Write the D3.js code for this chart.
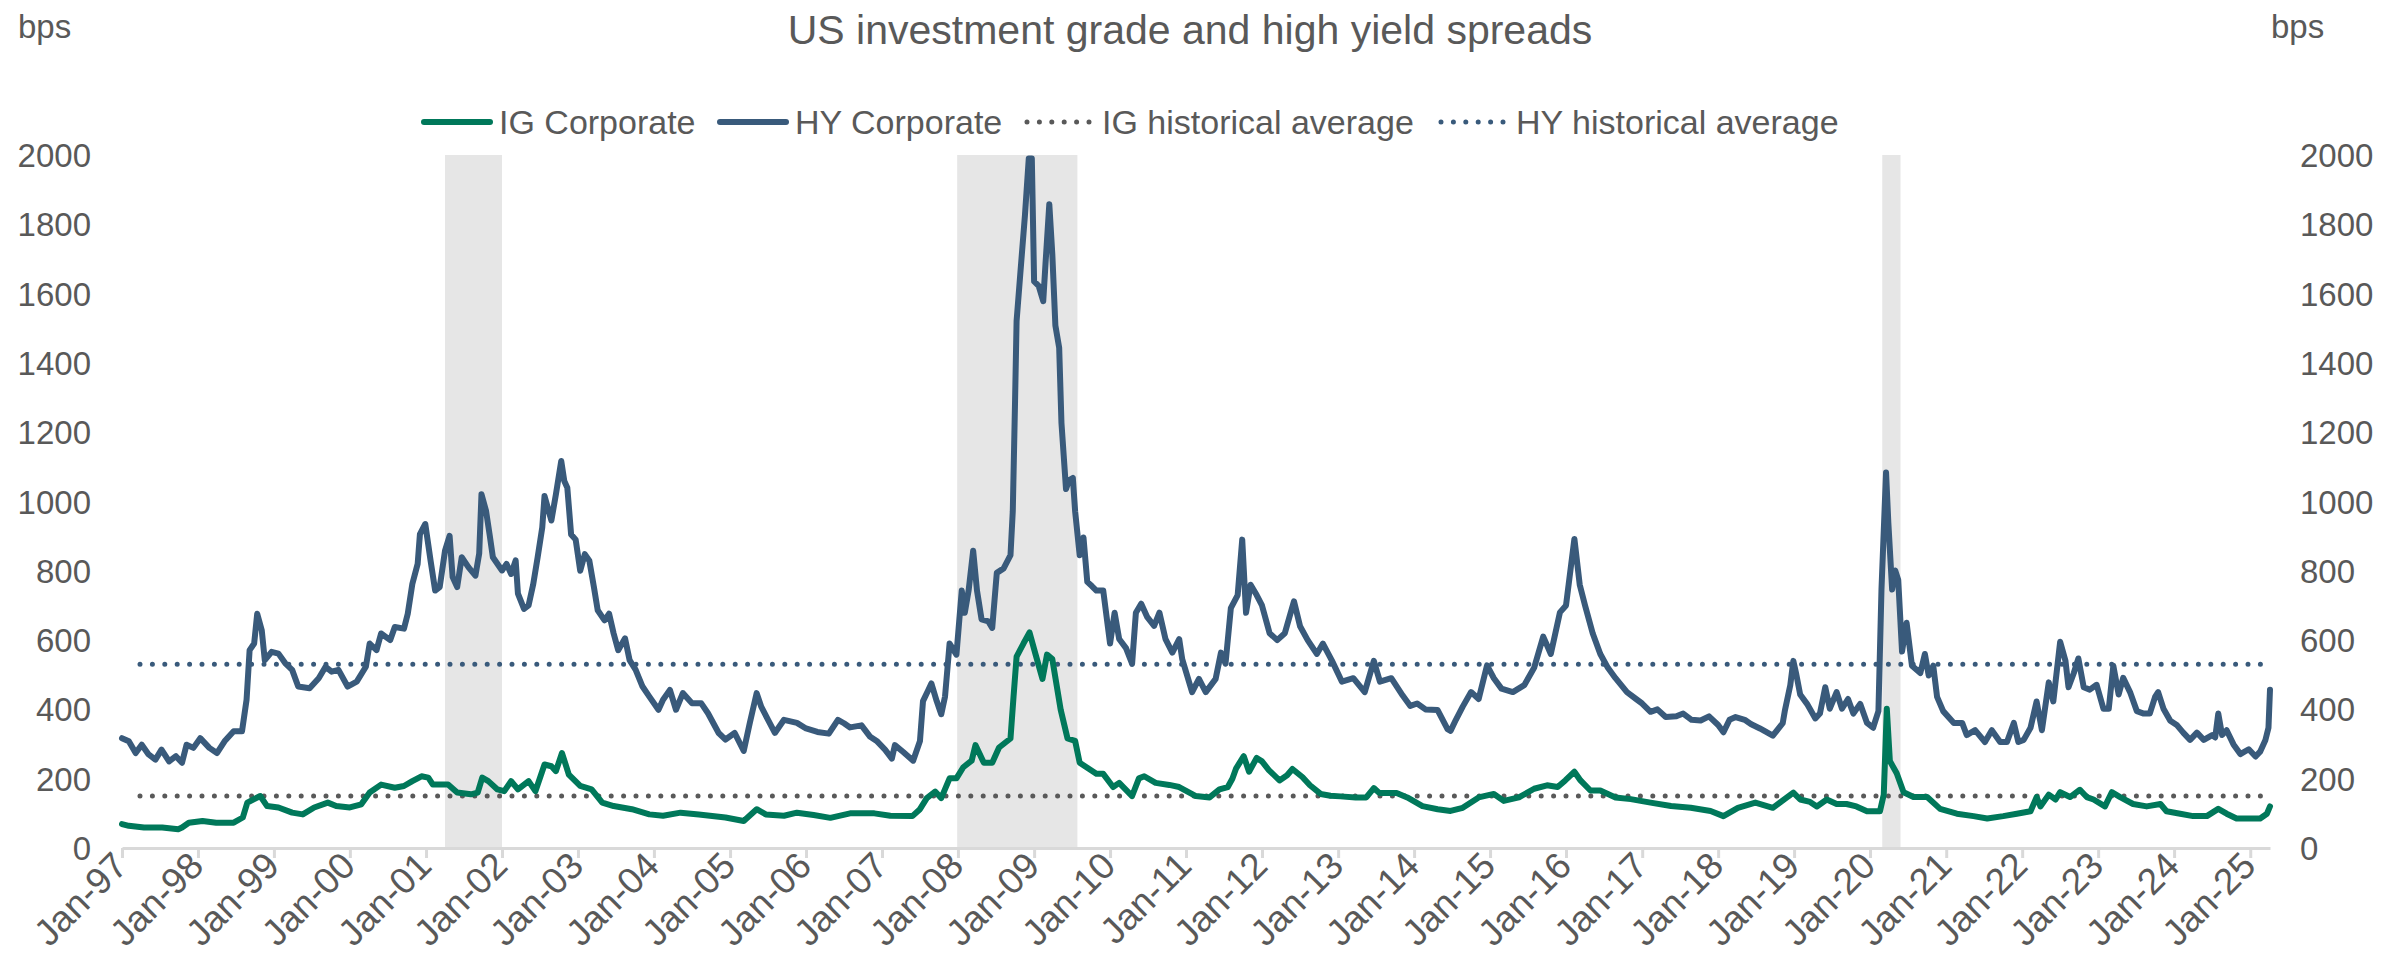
<!DOCTYPE html>
<html>
<head>
<meta charset="utf-8">
<script src="https://cdn.jsdelivr.net/npm/d3@7"></script>
<style>
  html, body { margin: 0; padding: 0; background: #ffffff; }
  svg { display: block; }
  text { font-family: "Liberation Sans", Arial, sans-serif; fill: #595959; }
</style>
</head>
<body>
<svg id="chart" width="2384" height="966"></svg>
<script>
// ---- Data: spreads in bps, dates as decimal years ----
const hyDates = [
  1997.00,1997.09,1997.18,1997.26,1997.35,1997.44,1997.52,1997.62,1997.71,1997.79,1997.85,1997.94,
  1998.03,1998.15,1998.25,1998.35,1998.47,1998.58,1998.64,1998.68,1998.74,1998.78,1998.84,1998.88,1998.97,
  1999.06,1999.15,1999.24,1999.32,1999.47,1999.59,1999.68,1999.76,1999.85,1999.97,
  2000.09,2000.21,2000.26,2000.35,2000.41,2000.53,2000.59,2000.71,2000.76,2000.82,2000.89,2000.92,2000.99,
  2001.06,2001.12,2001.18,2001.25,2001.31,2001.35,2001.41,2001.47,2001.56,2001.65,2001.70,2001.73,2001.79,2001.84,2001.88,
  2002.00,2002.06,2002.12,2002.18,2002.21,2002.29,2002.35,2002.41,2002.47,2002.53,2002.56,2002.65,2002.71,2002.78,2002.82,2002.86,2002.91,2002.97,
  2003.03,2003.09,2003.15,2003.21,2003.26,2003.35,2003.41,2003.47,2003.53,2003.62,2003.68,2003.76,2003.85,2003.94,
  2004.06,2004.12,2004.21,2004.29,2004.38,2004.50,2004.62,2004.71,2004.85,2004.94,
  2005.06,2005.18,2005.26,2005.35,2005.41,2005.50,2005.59,2005.71,2005.88,
  2006.00,2006.15,2006.30,2006.42,2006.50,2006.58,2006.73,2006.84,2006.93,
  2007.04,2007.13,2007.17,2007.28,2007.41,2007.50,2007.54,2007.61,2007.65,2007.72,2007.78,2007.83,2007.89,2007.98,
  2008.05,2008.09,2008.14,2008.20,2008.25,2008.31,2008.40,2008.45,2008.51,2008.60,2008.69,2008.72,2008.75,2008.77,2008.82,2008.88,2008.93,2008.97,
  2009.00,2009.06,2009.12,2009.15,2009.20,2009.24,2009.28,2009.33,2009.36,2009.42,2009.46,2009.51,2009.54,2009.60,2009.65,2009.70,2009.76,2009.82,2009.91,
  2010.00,2010.06,2010.12,2010.21,2010.29,2010.34,2010.41,2010.49,2010.58,2010.65,2010.73,2010.82,2010.91,2010.95,
  2011.08,2011.17,2011.26,2011.39,2011.46,2011.52,2011.59,2011.68,2011.74,2011.79,2011.85,2011.93,
  2012.00,2012.10,2012.20,2012.30,2012.42,2012.50,2012.60,2012.72,2012.80,2012.92,
  2013.05,2013.20,2013.35,2013.47,2013.55,2013.70,2013.85,2013.95,
  2014.04,2014.15,2014.31,2014.44,2014.48,2014.55,2014.64,2014.75,2014.85,2014.96,
  2015.05,2015.15,2015.30,2015.45,2015.58,2015.70,2015.80,2015.92,
  2016.00,2016.11,2016.18,2016.25,2016.35,2016.45,2016.55,2016.65,2016.80,2016.92,
  2017.00,2017.11,2017.20,2017.31,2017.45,2017.54,2017.65,2017.77,2017.88,
  2018.00,2018.07,2018.15,2018.23,2018.35,2018.43,2018.55,2018.72,2018.85,2018.88,2018.95,2018.99,
  2019.03,2019.08,2019.17,2019.28,2019.34,2019.41,2019.47,2019.56,2019.63,2019.71,2019.78,2019.87,2019.96,
  2020.04,2020.11,2020.15,2020.21,2020.24,2020.29,2020.33,2020.37,2020.42,2020.48,2020.55,2020.66,2020.72,2020.77,2020.83,2020.88,2020.96,
  2021.10,2021.21,2021.27,2021.38,2021.51,2021.60,2021.71,2021.80,2021.89,2021.95,
  2022.02,2022.11,2022.19,2022.26,2022.35,2022.41,2022.50,2022.57,2022.61,2022.68,2022.74,2022.81,2022.89,2022.98,
  2023.07,2023.14,2023.20,2023.27,2023.33,2023.42,2023.51,2023.60,2023.68,2023.75,2023.79,2023.86,2023.95,
  2024.04,2024.12,2024.21,2024.30,2024.39,2024.50,2024.54,2024.58,2024.63,2024.69,2024.78,2024.87,2024.98,
  2025.07,2025.13,2025.20,2025.24,2025.26
];
const hySpread = [
  317,308,274,298,270,255,284,250,265,246,298,289,
  317,289,274,308,337,337,428,571,590,676,628,542,566,
  561,533,514,466,461,490,523,509,514,466,
  480,523,590,571,619,600,638,633,676,762,820,906,935,
  829,743,753,858,901,782,753,839,810,786,850,1021,973,900,839,
  801,820,791,830,734,690,700,760,840,925,1016,945,1021,1117,1059,1040,905,890,
  800,848,829,753,686,657,676,619,571,605,542,514,466,437,
  399,428,456,399,447,418,418,389,332,313,
  332,280,361,447,408,370,332,370,361,
  345,335,330,370,360,348,354,322,309,
  284,258,297,277,252,309,424,456,475,424,386,437,590,558,
  743,679,743,858,743,660,654,635,794,807,845,972,1291,1521,1661,1827,1990,1990,
  1635,1622,1578,1686,1858,1712,1508,1444,1227,1036,1061,1068,972,845,896,768,756,743,743,
  590,679,603,577,532,679,705,666,641,679,603,564,603,545,
  450,488,450,488,564,532,692,730,890,679,760,730,
  700,620,600,620,712,640,600,560,590,540,
  480,490,450,540,480,490,440,410,
  417,400,398,343,338,370,408,450,430,527,
  490,460,450,470,520,610,560,680,
  700,892,760,700,620,560,520,490,450,430,
  417,393,400,378,380,388,370,368,380,
  355,334,370,378,370,358,345,324,360,398,470,540,
  500,443,416,374,388,464,402,450,402,430,388,416,361,
  347,395,746,1084,939,746,801,774,567,650,526,505,560,498,526,436,395,
  361,361,326,340,306,340,306,306,361,306,
  312,347,423,340,478,423,595,540,464,505,547,464,457,471,
  402,402,526,443,491,450,395,388,388,436,450,402,367,
  354,333,312,333,312,326,319,388,326,340,299,271,285,
  264,278,312,347,457
];

const igDates = [
  1997.00,1997.09,1997.29,1997.53,1997.74,1997.79,1997.88,
  1998.06,1998.24,1998.47,1998.59,1998.65,1998.82,1998.91,
  1999.06,1999.24,1999.38,1999.53,1999.71,1999.82,
  2000.00,2000.15,2000.26,2000.41,2000.59,2000.71,2000.82,2000.94,
  2001.03,2001.09,2001.29,2001.41,2001.59,2001.68,2001.74,2001.82,2001.94,
  2002.03,2002.12,2002.21,2002.35,2002.44,2002.56,2002.65,2002.71,2002.79,2002.88,
  2003.03,2003.18,2003.32,2003.47,2003.71,2003.94,
  2004.12,2004.35,2004.59,2004.94,
  2005.18,2005.35,2005.47,2005.71,2005.88,
  2006.10,2006.32,2006.58,2006.90,
  2007.11,2007.40,2007.50,2007.59,2007.70,2007.78,2007.89,2007.98,
  2008.07,2008.18,2008.23,2008.34,2008.45,2008.54,2008.69,2008.73,2008.77,2008.86,2008.94,
  2009.02,2009.11,2009.17,2009.24,2009.35,2009.44,2009.54,2009.60,2009.82,2009.91,
  2010.04,2010.12,2010.29,2010.38,2010.45,2010.60,2010.78,2010.91,
  2011.13,2011.31,2011.44,2011.55,2011.61,2011.66,2011.76,2011.83,2011.93,
  2012.00,2012.09,2012.23,2012.33,2012.40,2012.53,2012.63,2012.77,2012.90,
  2013.03,2013.23,2013.37,2013.47,2013.54,2013.77,2013.91,
  2014.11,2014.31,2014.48,2014.64,2014.85,
  2015.05,2015.18,2015.38,2015.58,2015.75,2015.89,2015.99,
  2016.11,2016.19,2016.32,2016.45,2016.65,2016.85,
  2017.11,2017.38,2017.64,2017.90,
  2018.07,2018.26,2018.49,2018.72,2018.99,
  2019.08,2019.21,2019.30,2019.43,2019.56,2019.69,2019.82,2019.96,
  2020.13,2020.18,2020.22,2020.26,2020.35,2020.44,2020.57,2020.75,2020.92,
  2021.14,2021.36,2021.54,2021.75,2021.93,
  2022.11,2022.19,2022.24,2022.35,2022.44,2022.50,2022.63,2022.76,2022.85,2022.94,
  2023.09,2023.18,2023.29,2023.46,2023.64,2023.82,2023.90,
  2024.08,2024.25,2024.43,2024.58,2024.69,2024.82,
  2025.00,2025.13,2025.22,2025.26
];
const igSpread = [
  69,64,59,59,54,59,73,
  78,73,73,88,131,150,121,
  117,102,97,117,131,121,
  117,126,160,183,174,179,193,207,
  203,183,183,160,155,160,203,193,169,
  164,193,169,193,164,241,236,222,274,212,
  179,169,131,121,112,97,
  93,102,97,88,
  78,112,97,93,102,
  95,87,100,100,
  93,92,112,144,163,144,201,201,
  233,252,297,246,246,290,316,437,552,590,622,
  558,488,558,545,399,316,309,246,214,214,
  176,188,150,201,207,188,182,176,
  150,146,169,176,200,230,265,220,260,
  250,225,195,210,228,205,181,156,151,
  149,146,146,173,159,159,146,
  121,112,107,116,146,
  156,136,146,171,181,176,195,
  220,195,166,166,146,141,
  131,121,116,107,
  92,116,131,116,160,
  140,133,120,140,127,127,120,106,
  106,154,402,251,216,161,147,147,113,
  99,92,85,92,99,
  106,147,120,154,140,161,147,168,147,140,
  120,161,147,127,120,127,106,
  99,92,92,113,99,85,
  85,85,99,120
];

// Long-run averages (bps)
const igAverage = 150;
const hyAverage = 530;

// Recession periods (decimal years)
const recessions = [[2001.25, 2002.0], [2007.99, 2009.57], [2020.16, 2020.40]];

const yTicks = [0, 200, 400, 600, 800, 1000, 1200, 1400, 1600, 1800, 2000];
const xTickYears = d3.range(1997, 2026);

const legendItems = [
  { label: "IG Corporate", color: "#00785a", dotted: false },
  { label: "HY Corporate", color: "#395a7b", dotted: false },
  { label: "IG historical average", color: "#595959", dotted: true },
  { label: "HY historical average", color: "#395a7b", dotted: true }
];

// ---- Helpers ----
function toDate(d) {
  const yr = Math.floor(d);
  const start = new Date(yr, 0, 1).getTime();
  const end = new Date(yr + 1, 0, 1).getTime();
  return new Date(start + (d - yr) * (end - start));
}

const hy = hyDates.map((d, i) => ({ date: toDate(d), value: hySpread[i] }));
const ig = igDates.map((d, i) => ({ date: toDate(d), value: igSpread[i] }));

// ---- Layout ----
const svg = d3.select("#chart");
const plotLeft = 122, plotRight = 2270, plotTop = 155, plotBottom = 848;

const x = d3.scaleTime()
  .domain([new Date(1997, 0, 1), toDate(2025.26)])
  .range([plotLeft, plotRight]);
const y = d3.scaleLinear().domain([0, 2000]).range([plotBottom, plotTop]);

svg.append("rect").attr("width", 2384).attr("height", 966).attr("fill", "#ffffff");

// Recession shading
svg.append("g").selectAll("rect")
  .data(recessions)
  .join("rect")
  .attr("x", d => x(toDate(d[0])))
  .attr("width", d => x(toDate(d[1])) - x(toDate(d[0])))
  .attr("y", y(2000))
  .attr("height", y(0) - y(2000))
  .attr("fill", "#e6e6e6");

// Horizontal average lines (dotted)
const avgGroup = svg.append("g");
[[igAverage, "#595959"], [hyAverage, "#395a7b"]].forEach(([v, c]) => {
  avgGroup.append("line")
    .attr("x1", x(toDate(1997.0)) + 18)
    .attr("x2", x(toDate(2025.26)) - 8)
    .attr("y1", y(v)).attr("y2", y(v))
    .attr("stroke", c)
    .attr("stroke-width", 5)
    .attr("stroke-linecap", "round")
    .attr("stroke-dasharray", "0 12.4");
});

// X axis
const xAxis = d3.axisBottom(x)
  .tickValues(xTickYears.map(yr => new Date(yr, 0, 1)))
  .tickFormat(d3.timeFormat("Jan-%y"))
  .tickSize(10)
  .tickSizeOuter(0);

const gx = svg.append("g").attr("transform", `translate(0,${plotBottom})`).call(xAxis);
gx.select(".domain").attr("stroke", "#d9d9d9").attr("stroke-width", 3);
gx.selectAll(".tick line").attr("stroke", "#d9d9d9").attr("stroke-width", 3);
gx.selectAll(".tick text")
  .attr("font-size", 37)
  .attr("fill", "#595959")
  .attr("text-anchor", "end")
  .attr("dy", null)
  .attr("y", null)
  .attr("transform", "translate(7,20) rotate(-45)");

// Y axes (left and right)
const yLeft = d3.axisLeft(y).tickValues(yTicks).tickFormat(d3.format("d")).tickSize(0).tickPadding(0);
const gyl = svg.append("g").attr("transform", "translate(91,0)").call(yLeft);
gyl.select(".domain").remove();
gyl.selectAll("text").attr("font-size", 33).attr("fill", "#595959").attr("dy", "0.35em");

const yRight = d3.axisRight(y).tickValues(yTicks).tickFormat(d3.format("d")).tickSize(0).tickPadding(0);
const gyr = svg.append("g").attr("transform", "translate(2300,0)").call(yRight);
gyr.select(".domain").remove();
gyr.selectAll("text").attr("font-size", 33).attr("fill", "#595959").attr("dy", "0.35em");

// Series lines
const line = d3.line().x(d => x(d.date)).y(d => y(d.value)).curve(d3.curveLinear);

svg.append("path").datum(hy)
  .attr("fill", "none").attr("stroke", "#395a7b")
  .attr("stroke-width", 6).attr("stroke-linejoin", "round").attr("stroke-linecap", "round")
  .attr("d", line);

svg.append("path").datum(ig)
  .attr("fill", "none").attr("stroke", "#00785a")
  .attr("stroke-width", 6).attr("stroke-linejoin", "round").attr("stroke-linecap", "round")
  .attr("d", line);

// Title and unit labels
svg.append("text")
  .attr("x", 1190).attr("y", 44)
  .attr("text-anchor", "middle")
  .attr("font-size", 41)
  .text("US investment grade and high yield spreads");

svg.append("text").attr("x", 18).attr("y", 38).attr("font-size", 33).text("bps");
svg.append("text").attr("x", 2271).attr("y", 38).attr("font-size", 33).text("bps");

// Legend
const legendX = [421, 717, 1024, 1438];
const legend = svg.append("g");
legendItems.forEach((item, i) => {
  const g = legend.append("g").attr("transform", `translate(${legendX[i]},122)`);
  g.append("line")
    .attr("x1", 3).attr("x2", 69)
    .attr("y1", 0).attr("y2", 0)
    .attr("stroke", item.color)
    .attr("stroke-width", item.dotted ? 5 : 6)
    .attr("stroke-linecap", "round")
    .attr("stroke-dasharray", item.dotted ? "0 12.4" : null);
  g.append("text")
    .attr("x", 78).attr("y", 0).attr("dy", "0.35em")
    .attr("font-size", 34)
    .text(item.label);
});
</script>
</body>
</html>
